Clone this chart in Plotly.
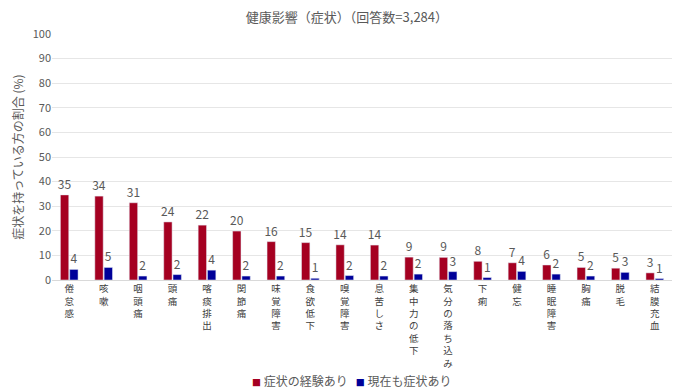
import plotly.graph_objects as go

categories = ["倦怠感", "咳嗽", "咽頭痛", "頭痛", "喀痰排出", "関節痛", "味覚障害", "食欲低下", "嗅覚障害",
              "息苦しさ", "集中力の低下", "気分の落ち込み", "下痢", "健忘", "睡眠障害", "胸痛", "脱毛", "結膜充血"]
experienced = [34.6, 34.1, 31.4, 23.6, 22.3, 19.9, 15.6, 15.2, 14.3, 14.2, 9.3, 9.2, 7.6, 7.0, 6.1, 5.1, 4.8, 2.9]
current = [4.3, 5.1, 1.6, 2.2, 4.0, 1.6, 1.6, 0.7, 1.8, 1.6, 2.4, 3.4, 1.0, 3.5, 2.4, 1.6, 3.1, 0.6]

series_names = ["症状の経験あり", "現在も症状あり"]
series_colors = ["#A50021", "#000099"]
title_text = "健康影響（症状）（回答数=3,284）"
y_title = "症状を持っている方の割合 (%)"

FONT = "Noto Sans CJK JP"
GRAY = "#595959"

tick_text = ["<br>".join(list(c)) for c in categories]

fig = go.Figure()
for vals, name, col in zip([experienced, current], series_names, series_colors):
    fig.add_trace(go.Bar(x=categories, y=vals, name=name, marker_color=col,
                         text=vals, texttemplate="%{y:.0f}", textposition="outside",
                         constraintext="none", showlegend=False,
                         textfont=dict(size=12, color=GRAY), cliponaxis=False))

legend_text = "   ".join(f"<span style='color:{c};font-size:9px'>■</span> {n}"
                         for n, c in zip(series_names, series_colors))
fig.add_annotation(text=legend_text, xref="paper", yref="paper", x=0.484, y=-0.41,
                   xanchor="center", yanchor="middle", showarrow=False,
                   font=dict(size=12, color=GRAY, family=FONT))

fig.update_layout(
    width=682, height=384,
    margin=dict(l=44, r=18, t=26, b=112),
    paper_bgcolor="white", plot_bgcolor="white",
    font=dict(family=FONT, size=11, color=GRAY),
    title=dict(text=title_text, x=0.497, xanchor="center", y=0.9745, yanchor="middle",
               font=dict(size=13, color=GRAY)),
    barmode="group", bargap=0.46, bargroupgap=0.1,
    showlegend=False,
)
fig.update_yaxes(range=[0, 100], dtick=10, showgrid=True, gridcolor="#E6E6E6", gridwidth=1,
                 zeroline=False, showline=False, ticks="", tickfont=dict(size=11, color=GRAY),
                 automargin=False,
                 title=dict(text=y_title, font=dict(size=12, color=GRAY), standoff=6))
fig.update_xaxes(tickmode="array", tickvals=categories, ticktext=tick_text, tickangle=0,
                 showline=True, linecolor="#D9D9D9", linewidth=1, ticks="", automargin=False,
                 tickfont=dict(size=9.5, color="#404040"))

fig.write_html("out.html")
